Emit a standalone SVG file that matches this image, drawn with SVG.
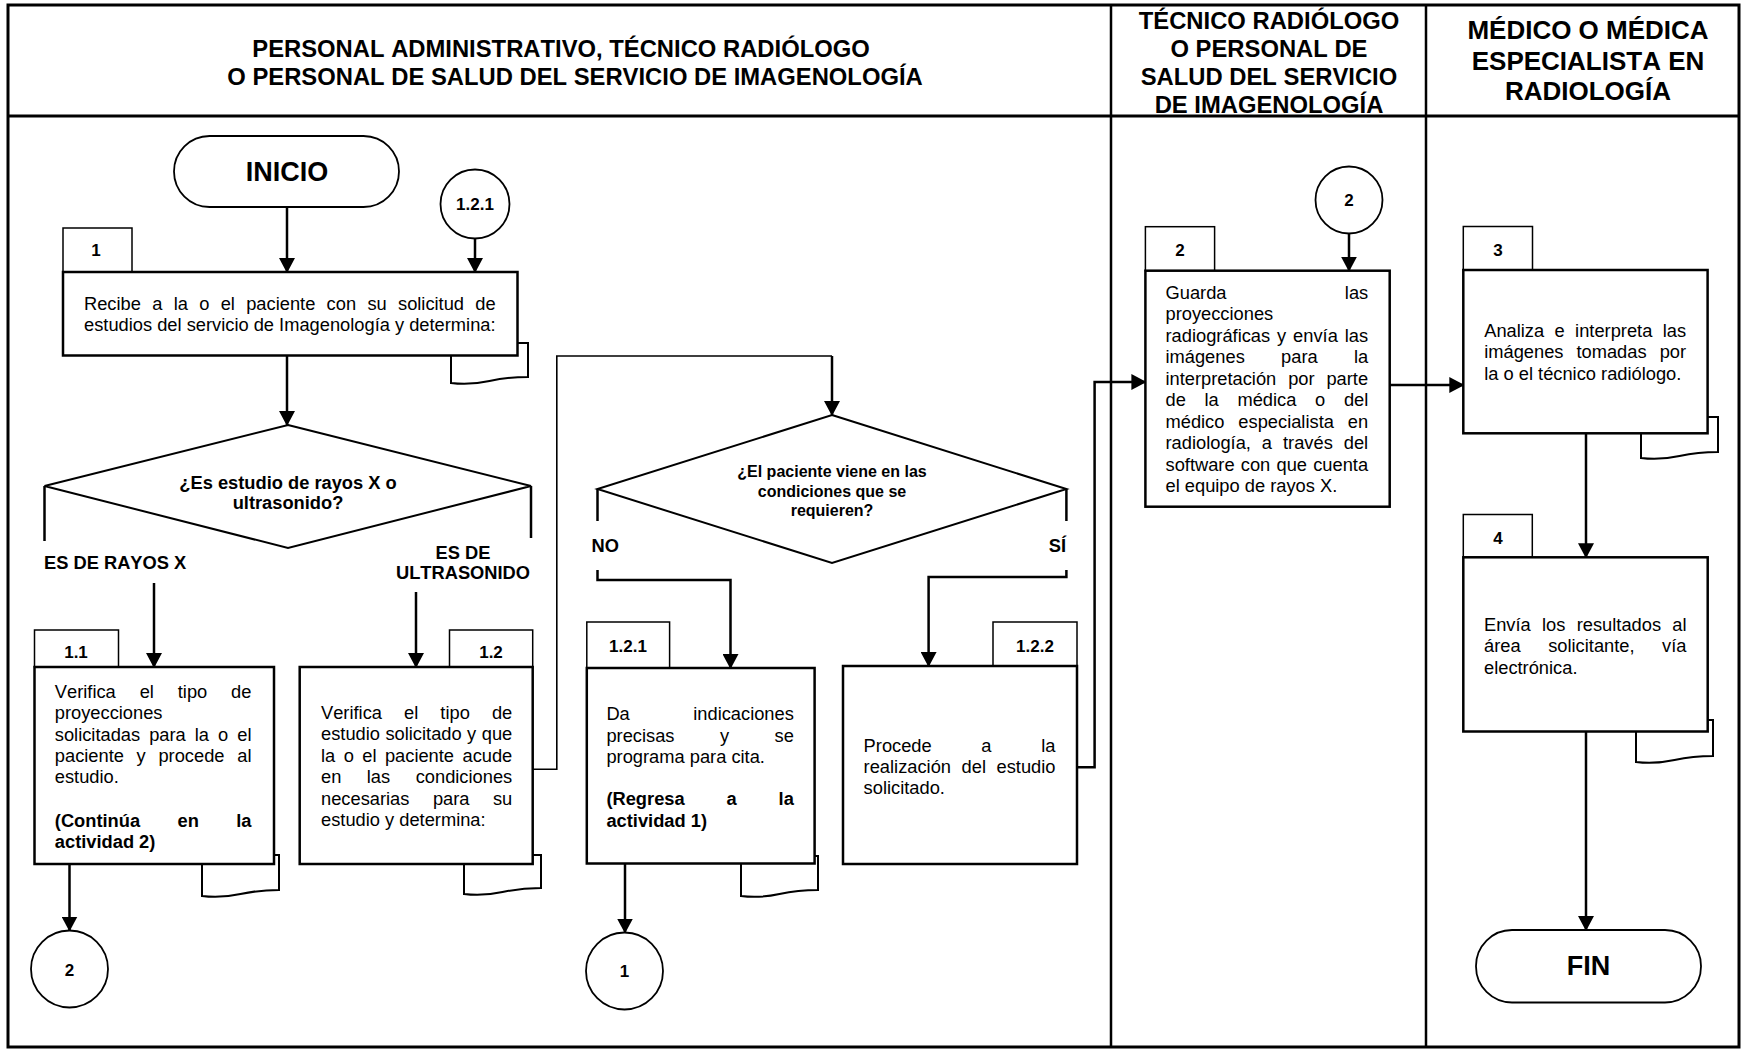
<svg xmlns="http://www.w3.org/2000/svg" width="1741" height="1049" viewBox="0 0 1741 1049">
  <defs>
    <marker id="ah" viewBox="0 0 15 16" markerWidth="15" markerHeight="16" refX="14" refY="8" orient="auto" markerUnits="userSpaceOnUse">
      <path d="M0,0 L15,8 L0,16 z" fill="#000"/>
    </marker>
    <style>
      .frame { fill: #fff; stroke: #000; stroke-width: 3; }
      .rule { stroke: #000; stroke-width: 3; }
      .lane { stroke: #000; stroke-width: 2.5; }
      .box { fill: #fff; stroke: #000; stroke-width: 2.5; }
      .tab { fill: #fff; stroke: #000; stroke-width: 1.5; }
      .doc { fill: #fff; stroke: #000; stroke-width: 2; }
      .term { fill: #fff; stroke: #000; stroke-width: 1.8; }
      .ref { fill: #fff; stroke: #000; stroke-width: 1.8; }
      .dec { fill: #fff; stroke: #000; stroke-width: 2; }
      .edge { fill: none; stroke: #000; stroke-width: 2.5; }
      .edge.thin { stroke-width: 1.6; }
      .edge.arr { marker-end: url(#ah); }
      text { font-family: "Liberation Sans", Arial, Helvetica, sans-serif; font-kerning: none; fill: #000; }
      .t { font-size: 18.3px; }
      .b { font-weight: bold; }
      .hd { font-size: 23.8px; font-weight: bold; text-anchor: middle; }
      .hd3 { font-size: 26px; font-weight: bold; text-anchor: middle; }
      .num { font-size: 17px; font-weight: bold; text-anchor: middle; }
      .q1 { font-size: 18.3px; font-weight: bold; text-anchor: middle; }
      .q2 { font-size: 16px; font-weight: bold; text-anchor: middle; }
      .big { font-size: 27px; font-weight: bold; text-anchor: middle; }
      .mid { text-anchor: middle; }
      .end { text-anchor: end; }
    </style>
  </defs>

  <!-- page frame, header band and swimlane dividers -->
  <g id="lanes">
    <rect class="frame" x="8" y="5" width="1731" height="1042"/>
    <line class="rule" x1="8" y1="116" x2="1739" y2="116"/>
    <line class="lane" x1="1111" y1="5" x2="1111" y2="1047"/>
    <line class="lane" x1="1426" y1="5" x2="1426" y2="1047"/>
    <text class="hd" x="561" y="56.5">PERSONAL ADMINISTRATIVO, TÉCNICO RADIÓLOGO</text>
    <text class="hd" x="575" y="84.5">O PERSONAL DE SALUD DEL SERVICIO DE IMAGENOLOGÍA</text>
    <text class="hd" x="1269" y="29">TÉCNICO RADIÓLOGO</text>
    <text class="hd" x="1269" y="57">O PERSONAL DE</text>
    <text class="hd" x="1269" y="85">SALUD DEL SERVICIO</text>
    <text class="hd" x="1269" y="112.5">DE IMAGENOLOGÍA</text>
    <text class="hd3" x="1588" y="39">MÉDICO O MÉDICA</text>
    <text class="hd3" x="1588" y="69.5">ESPECIALISTA EN</text>
    <text class="hd3" x="1588" y="99.5">RADIOLOGÍA</text>
  </g>

  <!-- connectors -->
  <g id="connectors">
    <line class="edge arr" x1="287" y1="207" x2="287" y2="272"/>
    <line class="edge arr" x1="475" y1="238.5" x2="475" y2="272"/>
    <line class="edge arr" x1="287" y1="355.5" x2="287" y2="425"/>
    <line class="edge" x1="44.5" y1="486" x2="44.5" y2="541"/>
    <line class="edge" x1="531" y1="486" x2="531" y2="538"/>
    <line class="edge arr" x1="154" y1="583" x2="154" y2="667"/>
    <line class="edge arr" x1="416" y1="592" x2="416" y2="667"/>
    <line class="edge arr" x1="69.5" y1="864" x2="69.5" y2="930.5"/>
    <polyline class="edge thin" points="532.7,769.3 556.8,769.3 556.8,356 832,356"/>
    <line class="edge arr" x1="832" y1="356" x2="832" y2="415"/>
    <line class="edge" x1="597.5" y1="489" x2="597.5" y2="521"/>
    <polyline class="edge arr" points="597.5,570 597.5,580 730.5,580 730.5,668"/>
    <line class="edge" x1="1066.4" y1="489" x2="1066.4" y2="521"/>
    <polyline class="edge arr" points="1066.4,570 1066.4,577 928.6,577 928.6,666"/>
    <line class="edge arr" x1="625" y1="863.5" x2="625" y2="932.5"/>
    <polyline class="edge arr" points="1077,767.3 1094.6,767.3 1094.6,382 1145.4,382"/>
    <line class="edge arr" x1="1349" y1="233.5" x2="1349" y2="270.7"/>
    <line class="edge arr" x1="1389.7" y1="385" x2="1463.3" y2="385"/>
    <line class="edge arr" x1="1586" y1="433.3" x2="1586" y2="557.3"/>
    <line class="edge arr" x1="1586" y1="731.5" x2="1586" y2="930"/>
    <text class="t b" x="44" y="569">ES DE RAYOS X</text>
    <text class="t b mid" x="463" y="559">ES DE</text>
    <text class="t b mid" x="463" y="579">ULTRASONIDO</text>
    <text class="t b" x="591.5" y="552">NO</text>
    <text class="t b end" x="1066" y="552">SÍ</text>
  </g>

  <!-- start -->
  <g id="inicio">
    <rect class="term" x="174" y="136" width="225" height="71" rx="35.5"/>
    <text class="big" x="287" y="181">INICIO</text>
  </g>

  <g id="ref-121-in">
    <circle class="ref" cx="475" cy="204" r="34.5"/>
    <text class="num" x="475" y="210">1.2.1</text>
  </g>

  <!-- activity 1 -->
  <g id="act-1">
    <path class="doc" d="M451,343 H528 V377 C512.6,377 501,378.5 489.5,381 C478,383.5 466.4,385 451,383 Z"/>
    <rect class="tab" x="63" y="228" width="69" height="44"/>
    <text class="num" x="96" y="256">1</text>
    <rect class="box" x="63" y="272" width="454.5" height="83.5"/>
    <text class="t" x="84" y="310" style="word-spacing:6.22px">Recibe a la o el paciente con su solicitud de</text>
    <text class="t" x="84" y="331">estudios del servicio de Imagenología y determina:</text>
  </g>

  <g id="dec-1">
    <polygon class="dec" points="288,425 531,486 288,548 44.5,486"/>
    <text class="q1" x="288" y="489">¿Es estudio de rayos X o</text>
    <text class="q1" x="288" y="509">ultrasonido?</text>
  </g>

  <!-- activity 1.1 -->
  <g id="act-1-1">
    <path class="doc" d="M202,855 H279 V890 C263.6,890 252,891.5 240.5,894 C229,896.5 217.4,898 202,896 Z"/>
    <rect class="tab" x="34.5" y="630" width="84" height="37"/>
    <text class="num" x="76" y="658">1.1</text>
    <rect class="box" x="34.5" y="667" width="239.5" height="197"/>
    <text class="t" x="54.8" y="698" style="word-spacing:18.8px">Verifica el tipo de</text>
    <text class="t" x="54.8" y="719">proyecciones</text>
    <text class="t" x="54.8" y="740.5" style="word-spacing:3.95px">solicitadas para la o el</text>
    <text class="t" x="54.8" y="762" style="word-spacing:7.62px">paciente y procede al</text>
    <text class="t" x="54.8" y="783">estudio.</text>
    <text class="t b" x="54.8" y="827" style="word-spacing:32.3px">(Continúa en la</text>
    <text class="t b" x="54.8" y="848">actividad 2)</text>
  </g>

  <g id="ref-2-out">
    <circle class="ref" cx="69.5" cy="969" r="38.5"/>
    <text class="num" x="69.5" y="976">2</text>
  </g>

  <!-- activity 1.2 -->
  <g id="act-1-2">
    <path class="doc" d="M464,855 H541 V888 C525.6,888 514,889.5 502.5,892 C491,894.5 479.4,896 464,894 Z"/>
    <rect class="tab" x="449.5" y="630" width="83.2" height="37"/>
    <text class="num" x="491" y="658">1.2</text>
    <rect class="box" x="299.7" y="667" width="233" height="197"/>
    <text class="t" x="321" y="719" style="word-spacing:17px">Verifica el tipo de</text>
    <text class="t" x="321" y="740" style="word-spacing:0.4px">estudio solicitado y que</text>
    <text class="t" x="321" y="761.5" style="word-spacing:3.35px">la o el paciente acude</text>
    <text class="t" x="321" y="783" style="word-spacing:20.4px">en las condiciones</text>
    <text class="t" x="321" y="804.5" style="word-spacing:18.4px">necesarias para su</text>
    <text class="t" x="321" y="826">estudio y determina:</text>
  </g>

  <g id="dec-2">
    <polygon class="dec" points="832,415 1066.4,489 832,563 597.5,489"/>
    <text class="q2" x="832" y="477">¿El paciente viene en las</text>
    <text class="q2" x="832" y="496.5">condiciones que se</text>
    <text class="q2" x="832" y="515.5">requieren?</text>
  </g>

  <!-- activity 1.2.1 -->
  <g id="act-1-2-1">
    <path class="doc" d="M741,856 H818 V890 C802.6,890 791,891.5 779.5,894 C768,896.5 756.4,898 741,896 Z"/>
    <rect class="tab" x="586.8" y="622" width="82.8" height="46"/>
    <text class="num" x="628" y="652">1.2.1</text>
    <rect class="box" x="586.8" y="668" width="227.8" height="195.5"/>
    <text class="t" x="606.4" y="720" style="word-spacing:58.4px">Da indicaciones</text>
    <text class="t" x="606.4" y="741.5" style="word-spacing:40.4px">precisas y se</text>
    <text class="t" x="606.4" y="763">programa para cita.</text>
    <text class="t b" x="606.4" y="805" style="word-spacing:36.8px">(Regresa a la</text>
    <text class="t b" x="606.4" y="826.5">actividad 1)</text>
  </g>

  <g id="ref-1-out">
    <circle class="ref" cx="624.5" cy="971" r="38.5"/>
    <text class="num" x="624.5" y="977">1</text>
  </g>

  <!-- activity 1.2.2 -->
  <g id="act-1-2-2">
    <rect class="tab" x="993" y="622" width="84" height="44"/>
    <text class="num" x="1035" y="652">1.2.2</text>
    <rect class="box" x="843" y="666" width="234" height="198"/>
    <text class="t" x="863.6" y="751.5" style="word-spacing:44.6px">Procede a la</text>
    <text class="t" x="863.6" y="772.5" style="word-spacing:5.5px">realización del estudio</text>
    <text class="t" x="863.6" y="794">solicitado.</text>
  </g>

  <!-- activity 2 -->
  <g id="ref-2-in">
    <circle class="ref" cx="1349" cy="200" r="33.5"/>
    <text class="num" x="1349" y="206">2</text>
  </g>

  <g id="act-2">
    <rect class="tab" x="1145.4" y="226.7" width="69.2" height="44"/>
    <text class="num" x="1180" y="256">2</text>
    <rect class="box" x="1145.4" y="270.7" width="244.3" height="236"/>
    <text class="t" x="1165.5" y="299" style="word-spacing:113.3px">Guarda las</text>
    <text class="t" x="1165.5" y="320">proyecciones</text>
    <text class="t" x="1165.5" y="341.5" style="word-spacing:1.83px">radiográficas y envía las</text>
    <text class="t" x="1165.5" y="363" style="word-spacing:31.2px">imágenes para la</text>
    <text class="t" x="1165.5" y="384.5" style="word-spacing:6.8px">interpretación por parte</text>
    <text class="t" x="1165.5" y="406" style="word-spacing:13.6px">de la médica o del</text>
    <text class="t" x="1165.5" y="427.5" style="word-spacing:8.85px">médico especialista en</text>
    <text class="t" x="1165.5" y="449" style="word-spacing:5.9px">radiología, a través del</text>
    <text class="t" x="1165.5" y="470.5" style="word-spacing:1.13px">software con que cuenta</text>
    <text class="t" x="1165.5" y="492">el equipo de rayos X.</text>
  </g>

  <!-- activity 3 -->
  <g id="act-3">
    <path class="doc" d="M1641,417 H1718 V452 C1702.6,452 1691,453.5 1679.5,456 C1668,458.5 1656.4,460 1641,458 Z"/>
    <rect class="tab" x="1463.3" y="226.5" width="69.2" height="43.5"/>
    <text class="num" x="1498" y="256">3</text>
    <rect class="box" x="1463.3" y="270" width="244.3" height="163.3"/>
    <text class="t" x="1484.2" y="336.5" style="word-spacing:5.3px">Analiza e interpreta las</text>
    <text class="t" x="1484.2" y="358" style="word-spacing:7.95px">imágenes tomadas por</text>
    <text class="t" x="1484.2" y="379.5">la o el técnico radiólogo.</text>
  </g>

  <!-- activity 4 -->
  <g id="act-4">
    <path class="doc" d="M1636,720 H1713 V756 C1697.6,756 1686,757.5 1674.5,760 C1663,762.5 1651.4,764 1636,762 Z"/>
    <rect class="tab" x="1463.3" y="514.5" width="69" height="42.8"/>
    <text class="num" x="1498" y="543.5">4</text>
    <rect class="box" x="1463.3" y="557.3" width="244.4" height="174.2"/>
    <text class="t" x="1484" y="630.5" style="word-spacing:6.2px">Envía los resultados al</text>
    <text class="t" x="1484" y="652" style="word-spacing:22.5px">área solicitante, vía</text>
    <text class="t" x="1484" y="673.5">electrónica.</text>
  </g>

  <!-- end -->
  <g id="fin">
    <rect class="term" x="1476" y="930" width="225" height="72.5" rx="36"/>
    <text class="big" x="1588.5" y="975">FIN</text>
  </g>
</svg>
